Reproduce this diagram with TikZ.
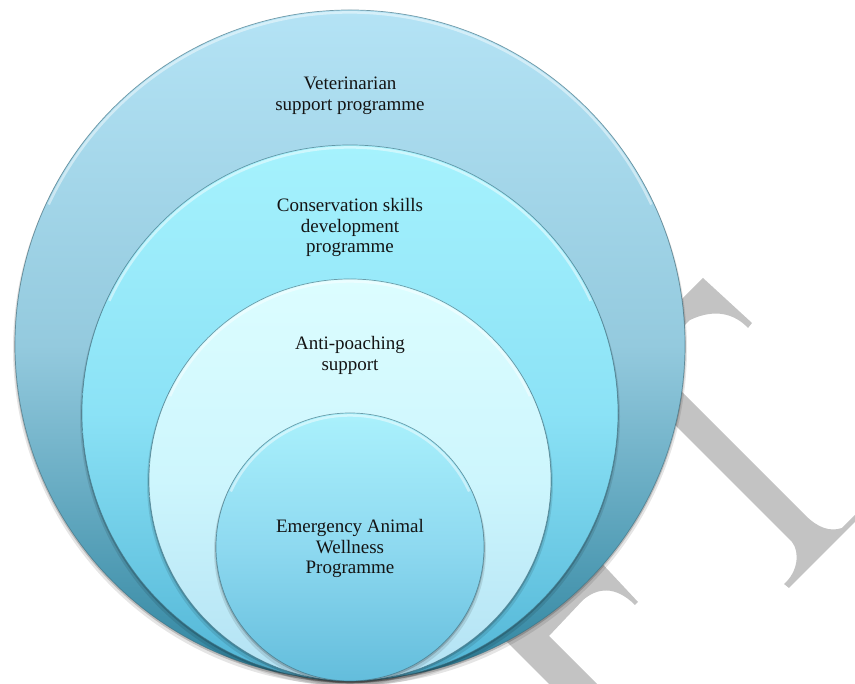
\documentclass[tikz,border=0pt]{standalone}
\usepackage{fontspec}
\setmainfont{Liberation Serif}
\definecolor{wmark}{HTML}{C3C3C3}
\definecolor{rimcol}{HTML}{3F6F7F}
\definecolor{txtcol}{HTML}{141414}
\definecolor{aTop}{HTML}{B4E3F5}
\definecolor{aMid}{HTML}{94CADE}
\definecolor{aBot}{HTML}{2E849F}
\definecolor{bTop}{HTML}{A6F2FD}
\definecolor{bMid}{HTML}{8BE2F6}
\definecolor{bBot}{HTML}{50B4D5}
\definecolor{cTop}{HTML}{DCFDFF}
\definecolor{cMid}{HTML}{CDF6FD}
\definecolor{cBot}{HTML}{B2E1F3}
\definecolor{dTop}{HTML}{AAF1FC}
\definecolor{dMid}{HTML}{8ED9F0}
\definecolor{dBot}{HTML}{63BDDC}
\newcommand{\rsdisc}[6]{%
  \fill[black,opacity=.10] (#1,#2-3.5) circle (#3+2);
  \fill[black,opacity=.18] (#1,#2-1.5) circle (#3+0.8);
  \shade[top color=#4, bottom color=#6, middle color=#5] (#1,#2) circle (#3);
  \draw[white,opacity=.45,line width=2.5pt] (#1,#2) ++(25:#3-2.5) arc (25:155:#3-2.5);
  \draw[rimcol,opacity=.65,line width=.7pt] (#1,#2) circle (#3);
}
\tikzset{
  label text/.style={font=\fontsize{19}{20.5}\selectfont, text=txtcol, align=center, inner sep=0pt},
  wm/.style={fill=wmark, draw=none}
}
\begin{document}
\begin{tikzpicture}[x=1pt,y=1pt]
\useasboundingbox (0,0) rectangle (855,684);
\fill[white] (0,0) rectangle (855,684);
\begin{scope}
\clip (0,0) rectangle (855,684);
% watermark letters
\fill[wm] (620,323) -- (703,406) -- (752,361) -- (748,356)
  .. controls (735,370) and (715,376) .. (690,364)
  -- (650,324) -- (805,169)
  .. controls (818,156) and (830,152) .. (842,156)
  -- (880,194) -- (880,187) -- (789,96) -- (784,100)
  .. controls (798,112) and (800,132) .. (792,142)
  -- (630,304) -- cycle;
\fill[wm] (595,128) -- (638,82) -- (635,79)
  .. controls (615,99) and (597,96) .. (583,84)
  -- (549,48) -- (620,-23) -- (572,-23) -- (500,49) -- (520,74) -- cycle;
% nested discs
\rsdisc{350}{339}{335}{aTop}{aMid}{aBot}
\rsdisc{350}{271}{268}{bTop}{bMid}{bBot}
\rsdisc{350}{204}{201}{cTop}{cMid}{cBot}
\rsdisc{350}{137}{134}{dTop}{dMid}{dBot}
\end{scope}
\node[label text] (vet) at (350,588) {Veterinarian\\support programme};
\node[label text] (cons) at (350,456.5) {Conservation skills\\development\\programme};
\node[label text] (anti) at (350,328.5) {Anti-poaching\\support};
\node[label text] (emer) at (350,135.5) {Emergency Animal\\Wellness\\Programme};
\end{tikzpicture}
\end{document}
